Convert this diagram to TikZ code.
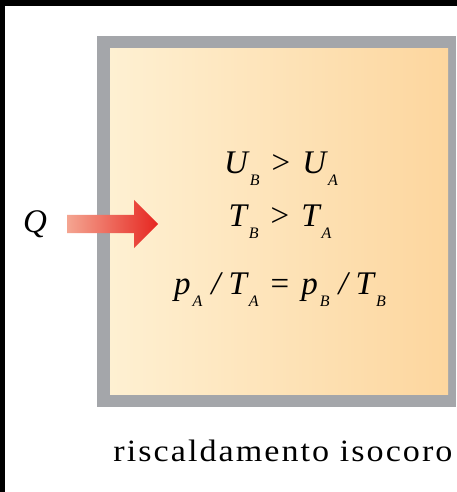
\documentclass[tikz,border=0pt]{standalone}
\usepackage{fontspec}
\setmainfont{Liberation Serif}
\newfontfamily\capfont[LetterSpace=6]{Liberation Serif}
\usepackage{tikz}
\usetikzlibrary{shapes.arrows}

\definecolor{wallgray}{RGB}{164,166,170}
\definecolor{gasleft}{RGB}{254,240,210}
\definecolor{gasright}{RGB}{253,214,158}
\definecolor{heatleft}{RGB}{244,165,145}
\definecolor{heatright}{RGB}{230,38,32}

\newcommand{\lowsub}[1]{\raisebox{-12pt}{\fontsize{16}{16}\selectfont\itshape\hspace{2pt}#1}}
\newcommand{\opgap}[1]{\hspace{12pt}{\upshape #1}\hspace{12pt}}
\newcommand{\slashgap}{\hspace{9pt}/\hspace{8pt}}

\begin{document}
\begin{tikzpicture}[
  x=1pt, y=1pt,
  wall/.style={
    fill=wallgray,
    inner sep=0pt,
    minimum width=359pt,
    minimum height=371pt
  },
  gas/.style={
    left color=gasleft,
    right color=gasright,
    inner sep=0pt,
    minimum width=338pt,
    minimum height=346pt
  },
  heat/.style={
    single arrow,
    draw=none,
    left color=heatleft,
    right color=heatright,
    inner xsep=0pt,
    inner ysep=9pt,
    minimum height=91pt,
    single arrow head extend=15pt,
    anchor=tail
  },
  eq/.style={
    anchor=base,
    inner sep=0pt,
    font=\fontsize{33}{38}\selectfont\itshape
  },
  caption/.style={
    anchor=base,
    inner sep=0pt,
    font=\fontsize{31}{36}\capfont
  }
]
\useasboundingbox[fill=white] (0,0) rectangle (457,492);
\fill[black] (0,486) rectangle (457,492);
\fill[black] (0,0) rectangle (5,492);

\node[wall] (box) at (276.5,270.5) {};
\node[gas] (gas) at (279,270) {};

\node[heat] (heat) at (67,268) {};
\node[eq] (q) at (35,259) {Q};

\node[eq] (energy) at (281,318)
  {U\lowsub{B}\opgap{>}U\lowsub{A}};
\node[eq] (temp) at (280,265)
  {T\lowsub{B}\opgap{>}T\lowsub{A}};
\node[eq] (ratio) at (280,197)
  {p\lowsub{A}\slashgap T\lowsub{A}\opgap{=}p\lowsub{B}\slashgap T\lowsub{B}};

\node[caption] (label) at (283,30)
  {\scalebox{1.1}[1]{riscaldamento isocoro}};
\end{tikzpicture}
\end{document}
